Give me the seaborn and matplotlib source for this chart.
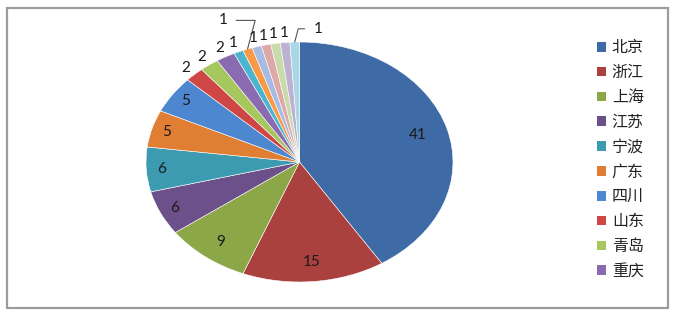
import numpy as np
import matplotlib
matplotlib.use("Agg")
import matplotlib.pyplot as plt
import seaborn as sns
from matplotlib.patches import Rectangle, Patch

sns.set_theme(style="white")
plt.rcParams['font.family'] = ['Noto Sans CJK SC', 'DejaVu Sans']

# ---- data ----
regions = ["北京", "浙江", "上海", "江苏", "宁波", "广东", "四川", "山东", "青岛", "重庆",
           "其他1", "其他2", "其他3", "其他4", "其他5", "其他6", "其他7"]
counts = [41, 15, 9, 6, 6, 5, 5, 2, 2, 2, 1, 1, 1, 1, 1, 1, 1]
legend_n = 10
colors = ["#3E6AA6", "#AA413E", "#8CA748", "#6B5089", "#3C9AB1", "#E07E34", "#4D87D0",
          "#CF4744", "#A6C65E", "#8A6BB0", "#4BB4CE", "#F99A48", "#A8BBE2", "#DCA9A8",
          "#C9DBAA", "#BCB1D2", "#A9D7E5"]
palette = sns.color_palette(colors)

W, H = 676, 319
fig = plt.figure(figsize=(W / 100, H / 100), dpi=100)
fig.patch.set_facecolor("white")

# outer border
fig.patches.append(Rectangle((7 / W, 1 - 308 / H), 661 / W, 300 / H, transform=fig.transFigure,
                             fill=False, edgecolor="#9C9C9C", lw=1.6))

ax = fig.add_axes([146 / W, (H - 282) / H, 307 / W, 240 / H])
wedges, _ = ax.pie(counts, colors=palette, startangle=90, counterclock=False,
                   wedgeprops=dict(edgecolor="white", linewidth=0.4))
ax.set_aspect("auto")
ax.set_xlim(-1, 1)
ax.set_ylim(-1, 1)
ax.axis("off")

num_font = dict(family=["Lato", "DejaVu Sans"], fontsize=11, color="#1a1a1a")
leader = {11: (-0.5, 1.18), 16: (0.12, 1.11)}
for i, (w, v) in enumerate(zip(wedges, counts)):
    mid = np.deg2rad((w.theta1 + w.theta2) / 2)
    if v >= 5:
        r = 0.8 if v > 20 else (0.84 if v > 8 else 0.9)
        ax.text(r * np.cos(mid), r * np.sin(mid), str(v), ha="center", va="center", **num_font)
    elif i in leader:
        tx, ty = leader[i]
        ax.annotate(str(v), xy=(np.cos(mid), np.sin(mid)), xytext=(tx, ty),
                    ha="center", va="center", annotation_clip=False,
                    arrowprops=dict(arrowstyle="-", color="#555555", lw=0.8,
                                    shrinkA=4, shrinkB=0,
                                    connectionstyle="angle,angleA=0,angleB=75,rad=0"),
                    **num_font)
    else:
        r = 1.08
        ax.text(r * np.cos(mid), r * np.sin(mid), str(v), ha="center", va="center",
                clip_on=False, **num_font)

handles = [Patch(facecolor=palette[i], edgecolor="none") for i in range(legend_n)]
leg = fig.legend(handles, regions[:legend_n], loc="upper left",
                 bbox_to_anchor=(591 / W, 1 - 33 / H), frameon=False,
                 fontsize=11.5, handlelength=0.55, handleheight=0.55, handletextpad=0.35,
                 labelspacing=0.49, borderaxespad=0)
for t in leg.get_texts():
    t.set_color("#222222")

fig.savefig("out.png", dpi=100, facecolor="white")
